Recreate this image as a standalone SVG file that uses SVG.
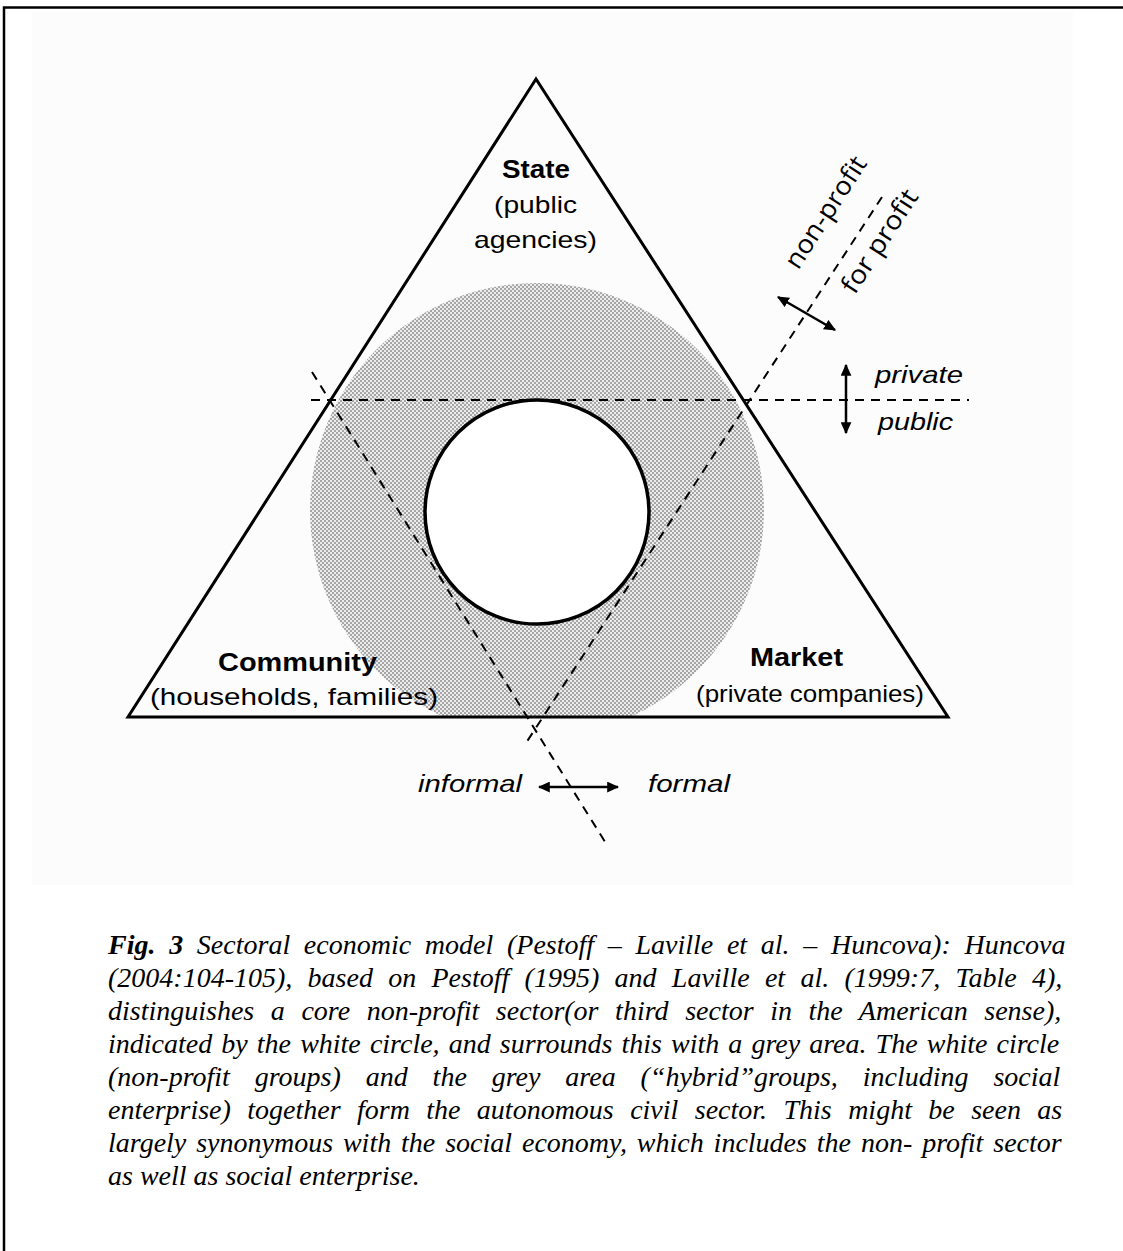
<svg xmlns="http://www.w3.org/2000/svg" width="1123" height="1251" viewBox="0 0 1123 1251">
  <style>
    .frame { stroke: #000; stroke-width: 2.5; fill: none; }
    .edge { stroke: #000; stroke-width: 3; fill: none; stroke-linejoin: miter; }
    .dash { stroke: #000; stroke-width: 2; stroke-dasharray: 9 7; fill: none; }
    .arrow { stroke: #000; stroke-width: 2.5; fill: none; marker-start: url(#head); marker-end: url(#head); }
    .lbl { font-family: "Liberation Sans", Arial, sans-serif; font-size: 24px; fill: #000; text-anchor: middle; }
    .bold { font-weight: bold; font-size: 25px; }
    .ital { font-style: italic; text-anchor: start; }
    .rot { font-family: "Open Sans", "Liberation Sans", sans-serif; font-size: 26px; text-anchor: middle; }
    .cap { font-family: "Liberation Serif", "Times New Roman", serif; font-style: italic; font-size: 28px; fill: #000; }
  </style>
  <defs>
    <pattern id="dots" width="4" height="4" patternUnits="userSpaceOnUse">
      <rect width="4" height="4" fill="#ececec"/>
      <rect width="2" height="2" fill="#a6a6a6"/>
      <rect x="2" y="2" width="2" height="2" fill="#a6a6a6"/>
    </pattern>
    <clipPath id="tri">
      <polygon points="536,79 128,717 948,717"/>
    </clipPath>
    <marker id="head" viewBox="0 0 10 9" refX="9" refY="4.5" markerWidth="12" markerHeight="11" markerUnits="userSpaceOnUse" orient="auto-start-reverse">
      <path d="M0,0 L10,4.5 L0,9 z" fill="#000"/>
    </marker>
  </defs>

  <!-- page frame -->
  <rect width="1123" height="1251" fill="#fff"/>
  <rect x="32" y="12" width="1041" height="873" fill="#fcfcfc"/>
  <path class="frame" d="M4,1251 V7.5 H1123"/>

  <!-- hybrid (grey) zone -->
  <g id="hybrid-zone">
    <circle cx="537" cy="510" r="227" fill="url(#dots)" clip-path="url(#tri)"/>
  </g>

  <!-- dividing lines and direction arrows -->
  <g id="connectors">
    <line class="dash" x1="311" y1="400" x2="969" y2="400"/>
    <line class="dash" x1="312" y1="372" x2="607" y2="845"/>
    <line class="dash" x1="882" y1="197" x2="526" y2="743"/>
    <line class="arrow" x1="778" y1="297" x2="835" y2="330"/>
    <line class="arrow" x1="846" y1="365" x2="846" y2="433"/>
    <line class="arrow" x1="539" y1="787" x2="618" y2="787"/>
  </g>

  <!-- core non-profit sector -->
  <g id="core-sector">
    <circle cx="537" cy="512" r="112" fill="#fff" stroke="#000" stroke-width="3.5"/>
  </g>

  <!-- the three sectors as triangle corners -->
  <g id="triangle">
    <polygon class="edge" points="536,79 128,717 948,717"/>
  </g>

  <g id="state">
    <text class="lbl bold" x="536" y="178" textLength="68" lengthAdjust="spacingAndGlyphs">State</text>
    <text class="lbl" x="535.5" y="213" textLength="83" lengthAdjust="spacingAndGlyphs">(public</text>
    <text class="lbl" x="535.5" y="248" textLength="123" lengthAdjust="spacingAndGlyphs">agencies)</text>
  </g>

  <g id="community">
    <text class="lbl bold" x="297.5" y="671" textLength="159" lengthAdjust="spacingAndGlyphs">Community</text>
    <text class="lbl" x="294" y="705" textLength="288" lengthAdjust="spacingAndGlyphs">(households, families)</text>
  </g>

  <g id="market">
    <text class="lbl bold" x="796.5" y="666" textLength="93" lengthAdjust="spacingAndGlyphs">Market</text>
    <text class="lbl" x="810" y="702" textLength="228" lengthAdjust="spacingAndGlyphs">(private companies)</text>
  </g>

  <!-- axis labels -->
  <g id="axis-labels">
    <text class="lbl rot" transform="translate(833,217) rotate(-57)" textLength="128" lengthAdjust="spacingAndGlyphs">non-profit</text>
    <text class="lbl rot" transform="translate(887,246) rotate(-57)" textLength="118" lengthAdjust="spacingAndGlyphs">for profit</text>
    <text class="lbl ital" x="875" y="383" textLength="88" lengthAdjust="spacingAndGlyphs">private</text>
    <text class="lbl ital" x="878" y="430" textLength="75" lengthAdjust="spacingAndGlyphs">public</text>
    <text class="lbl ital" x="418" y="792" textLength="104" lengthAdjust="spacingAndGlyphs">informal</text>
    <text class="lbl ital" x="648" y="792" textLength="82" lengthAdjust="spacingAndGlyphs">formal</text>
  </g>

  <!-- caption: Times italic, justified by word spacing -->
  <g id="caption">
    <text class="cap" x="108" y="954" word-spacing="6.7"><tspan font-weight="bold">Fig. 3</tspan> Sectoral economic model (Pestoff – Laville et al. – Huncova): Huncova</text>
    <text class="cap" x="108" y="987" word-spacing="8.3">(2004:104-105), based on Pestoff (1995) and Laville et al. (1999:7, Table 4),</text>
    <text class="cap" x="108" y="1020" word-spacing="9.6">distinguishes a core non-profit sector(or third sector in the American sense),</text>
    <text class="cap" x="108" y="1053" word-spacing="2.1">indicated by the white circle, and surrounds this with a grey area. The white circle</text>
    <text class="cap" x="108" y="1086" word-spacing="17.9">(non-profit groups) and the grey area (“hybrid”groups, including social</text>
    <text class="cap" x="108" y="1119" word-spacing="9.4">enterprise) together form the autonomous civil sector. This might be seen as</text>
    <text class="cap" x="108" y="1152" word-spacing="2.9">largely synonymous with the social economy, which includes the non- profit sector</text>
    <text class="cap" x="108" y="1185">as well as social enterprise.</text>
  </g>
</svg>
